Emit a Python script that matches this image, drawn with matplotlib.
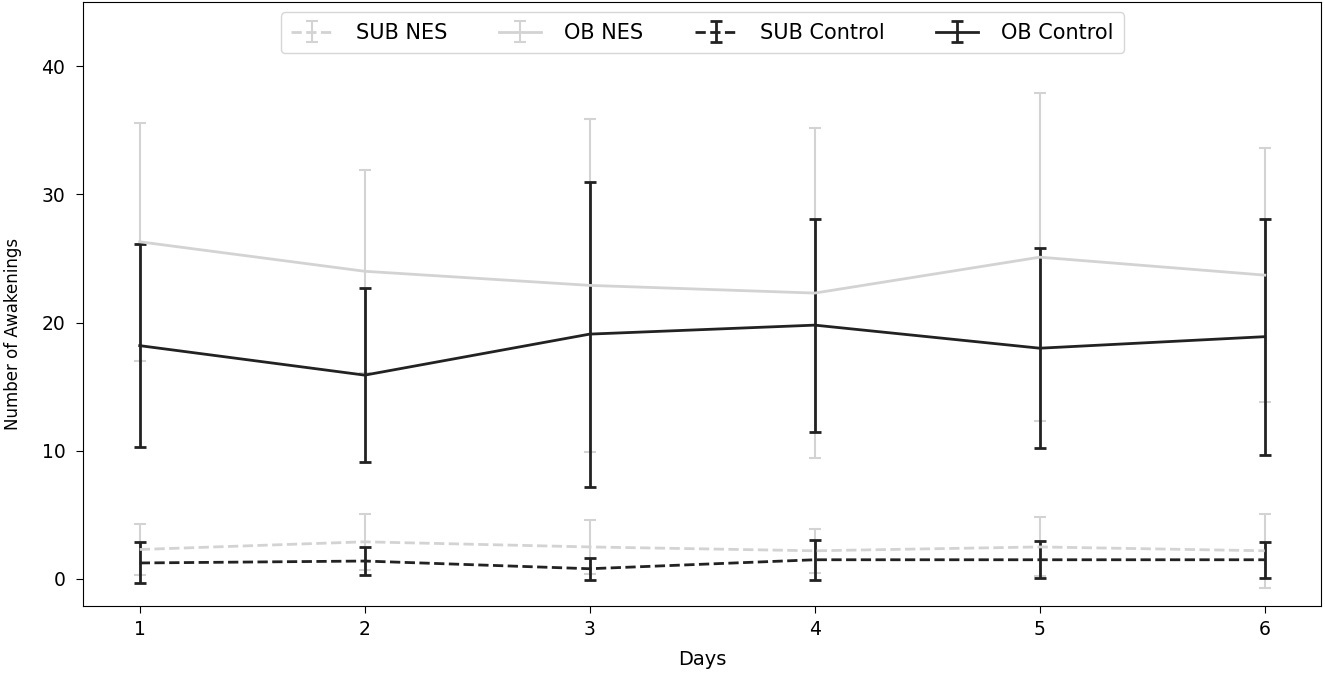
import numpy as np
import matplotlib
matplotlib.use('Agg')
import matplotlib.pyplot as plt

# Awakenings per day, mean and error
days = [1, 2, 3, 4, 5, 6]

sub_nes_mean = [2.3, 2.9, 2.5, 2.2, 2.5, 2.2]
sub_nes_err = [2.0, 2.2, 2.1, 1.7, 2.3, 2.9]

ob_nes_mean = [26.3, 24.0, 22.9, 22.3, 25.1, 23.7]
ob_nes_err = [9.3, 7.9, 13.0, 12.9, 12.8, 9.9]

sub_ctrl_mean = [1.25, 1.4, 0.8, 1.5, 1.5, 1.5]
sub_ctrl_err = [1.6, 1.1, 0.87, 1.55, 1.45, 1.4]

ob_ctrl_mean = [18.2, 15.9, 19.1, 19.8, 18.0, 18.9]
ob_ctrl_err = [7.9, 6.8, 11.9, 8.3, 7.8, 9.2]

light = '#d3d3d3'
dark = '#222222'

fig = plt.figure(figsize=(13.25, 6.77), dpi=100)
ax = fig.add_axes([0.063, 0.105, 0.934, 0.892])

ax.errorbar(days, sub_nes_mean, yerr=sub_nes_err, color=light, linestyle='--',
            linewidth=2, elinewidth=1.5, capsize=4, capthick=1.5, label='SUB NES')
ax.errorbar(days, ob_nes_mean, yerr=ob_nes_err, color=light, linestyle='-',
            linewidth=2, elinewidth=1.5, capsize=4, capthick=1.5, label='OB NES')
ax.errorbar(days, sub_ctrl_mean, yerr=sub_ctrl_err, color=dark, linestyle='--',
            linewidth=2, elinewidth=2, capsize=4, capthick=2, label='SUB Control')
ax.errorbar(days, ob_ctrl_mean, yerr=ob_ctrl_err, color=dark, linestyle='-',
            linewidth=2, elinewidth=2, capsize=4, capthick=2, label='OB Control')

ax.set_xlim(0.75, 6.25)
ax.set_ylim(-2.1, 45)
ax.set_xticks(days)
ax.set_yticks([0, 10, 20, 30, 40])
ax.tick_params(labelsize=13.5, length=5, pad=5)
ax.tick_params(axis='y', pad=8)
ax.set_xlabel('Days', fontsize=14, labelpad=8)
ax.set_ylabel('Number of Awakenings', fontsize=12)
ax.yaxis.set_label_coords(-0.05, 0.45)
ax.legend(loc='upper center', ncol=4, fontsize=15, bbox_to_anchor=(0.5, 1.0),
          handlelength=2.0, handletextpad=1.1, columnspacing=2.5, borderpad=0.5)

fig.savefig('out.png', dpi=100)
